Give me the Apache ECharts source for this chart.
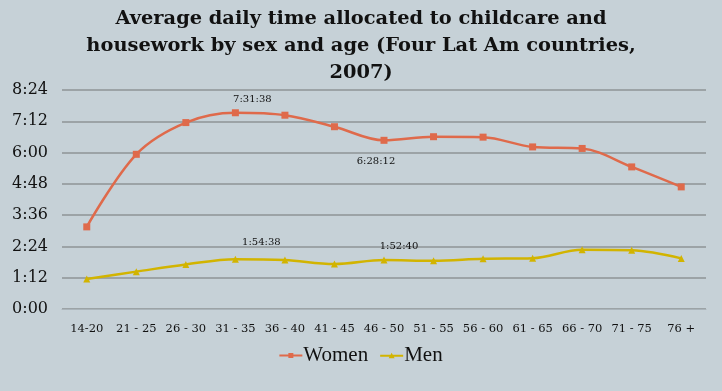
<!DOCTYPE html>
<html><head><meta charset="utf-8">
<script src="https://cdn.jsdelivr.net/npm/echarts@6/dist/echarts.min.js"></script>
<style>html,body{margin:0;padding:0;background:#c6d1d7;}#c{width:722px;height:391px;}</style>
</head><body><div id="c"></div>
<script>
const categories = ['14-20','21 - 25','26 - 30','31 - 35','36 - 40','41 - 45','46 - 50','51 - 55','56 - 60','61 - 65','66 - 70','71 - 75','76 +'];
// minutes per day
const women = [189, 356, 429, 451.6333, 446, 419.5, 388.2, 396.5, 395.5, 373, 369.5, 327, 281];
const men = [69, 86, 102.5, 114.6333, 112.5, 103.5, 112.6667, 111, 115.5, 117, 136.5, 135, 116.5];
const yTicks = {min: 0, max: 504, interval: 72};

function hm(v){const h=Math.floor(v/60), m=Math.round(v-h*60);return h+':'+String(m).padStart(2,'0');}
function hms(v){const t=Math.round(v*60);const h=Math.floor(t/3600),m=Math.floor((t%3600)/60),s=t%60;return h+':'+String(m).padStart(2,'0')+':'+String(s).padStart(2,'0');}

const lblStyle = {show:true, formatter:p=>hms(p.value), fontFamily:'DejaVu Serif', fontSize:10, color:'#111'};
function withLabels(arr, specs){
  return arr.map((v,i)=>specs[i]?{value:v,label:Object.assign({},lblStyle,specs[i])}:v);
}
const womenData = withLabels(women, {3:{position:'top',offset:[17,0]}, 6:{position:'bottom',offset:[-8,8]}});
const menData = withLabels(men, {3:{position:'top',offset:[26,-3]}, 6:{position:'top',offset:[15,0]}});

const iconW = 'path://M0,9 L46,9 L46,13 L0,13 Z M18,6 L28,6 L28,16 L18,16 Z';
const iconM = 'path://M0,9 L46,9 L46,13 L0,13 Z M23,5 L29,16 L17,16 Z';

const chart = echarts.init(document.getElementById('c'));
chart.setOption({
  backgroundColor:'#c6d1d7',
  animation:false,
  title:{text:'Average daily time allocated to childcare and\nhousework by sex and age (Four Lat Am countries,\n2007)',
    left:'center', top:0, textStyle:{fontFamily:'DejaVu Serif', fontWeight:'bold', fontSize:19.4, lineHeight:27, color:'#111'}},
  grid:{left:62, right:16, top:90, bottom:82},
  legend:{bottom:20, left:'center', itemWidth:23, itemHeight:11, itemGap:12,
    textStyle:{fontFamily:'Liberation Serif', fontSize:21, color:'#111', padding:[0,0,0,-4]},
    data:[{name:'Women',icon:iconW},{name:'Men',icon:iconM}]},
  xAxis:{type:'category', data:categories, boundaryGap:true,
    axisLine:{show:true, lineStyle:{color:'#aab4ba'}}, axisTick:{show:false},
    axisLabel:{interval:0, fontFamily:'DejaVu Serif', fontSize:11.5, color:'#111', margin:14}},
  yAxis:{type:'value', min:yTicks.min, max:yTicks.max, interval:yTicks.interval,
    axisLine:{show:false}, axisTick:{show:false},
    splitLine:{lineStyle:{color:'#8e9396', width:1.5}},
    axisLabel:{formatter:v=>hm(v), fontFamily:'DejaVu Serif', fontSize:16, color:'#111', margin:14}},
  series:[
    {name:'Women', type:'line', smooth:0.35, data:womenData, symbol:'rect', symbolSize:7,
      lineStyle:{color:'#df6a4b', width:2.5}, itemStyle:{color:'#df6a4b'}},
    {name:'Men', type:'line', smooth:0.35, data:menData, symbol:'triangle', symbolSize:7,
      lineStyle:{color:'#d2b400', width:2.5}, itemStyle:{color:'#d2b400'}}
  ]
});
</script></body></html>
